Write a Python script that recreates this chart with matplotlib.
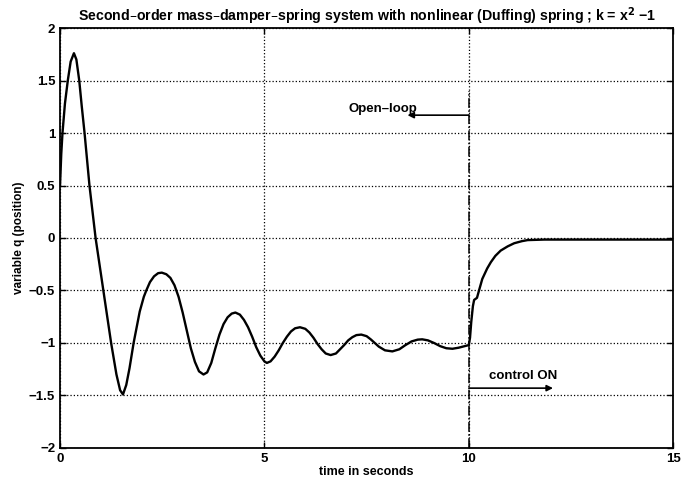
import matplotlib
matplotlib.use("Agg")
import matplotlib.pyplot as plt

# values (time in s, position q)
t = [0.0, 0.03, 0.06, 0.12, 0.19, 0.26, 0.34, 0.40, 0.47, 0.53, 0.60, 0.72, 0.87,
     1.06, 1.25, 1.38, 1.47, 1.54, 1.62, 1.70, 1.80, 1.95, 2.05, 2.11, 2.20, 2.30, 2.40,
     2.49, 2.60, 2.70, 2.80, 2.90, 3.00, 3.10, 3.20, 3.30, 3.40, 3.51, 3.60, 3.70,
     3.80, 3.90, 4.00, 4.10, 4.20, 4.29, 4.40, 4.50, 4.60, 4.70, 4.80, 4.90, 5.00,
     5.06, 5.15, 5.25, 5.35, 5.45, 5.55, 5.65, 5.75, 5.87, 6.00, 6.10, 6.20, 6.30,
     6.40, 6.50, 6.62, 6.75, 6.85, 6.95, 7.05, 7.15, 7.25, 7.37, 7.50, 7.60, 7.70,
     7.80, 7.95, 8.13, 8.30, 8.45, 8.60, 8.75, 8.86, 9.00, 9.15, 9.30, 9.45, 9.60,
     9.75, 9.90, 10.00, 10.03, 10.06, 10.10, 10.13, 10.20, 10.25,
     10.33, 10.45, 10.54, 10.65, 10.78, 10.95, 11.11, 11.30, 11.44, 11.85, 13.00, 15.00]
q = [0.50, 0.80, 1.00, 1.28, 1.50, 1.68, 1.76, 1.70, 1.50, 1.26, 1.00, 0.50, 0.00,
     -0.50, -1.00, -1.30, -1.45, -1.49, -1.40, -1.24, -1.00, -0.70, -0.56, -0.50, -0.42, -0.365, -0.335,
     -0.33, -0.345, -0.38, -0.45, -0.56, -0.71, -0.88, -1.05, -1.18, -1.27, -1.30, -1.28, -1.19,
     -1.05, -0.92, -0.82, -0.755, -0.72, -0.71, -0.73, -0.78, -0.85, -0.94, -1.04, -1.12, -1.175,
     -1.19, -1.175, -1.13, -1.07, -1.00, -0.94, -0.89, -0.86, -0.85, -0.865, -0.90, -0.95, -1.01,
     -1.06, -1.10, -1.115, -1.10, -1.06, -1.02, -0.975, -0.945, -0.925, -0.92, -0.935, -0.965, -1.00,
     -1.035, -1.07, -1.08, -1.06, -1.02, -0.985, -0.968, -0.965, -0.975, -1.00, -1.03, -1.05, -1.055,
     -1.045, -1.03, -1.02, -0.95, -0.80, -0.65, -0.59, -0.57, -0.50,
     -0.39, -0.29, -0.23, -0.17, -0.12, -0.08, -0.05, -0.03, -0.02, -0.015, -0.015, -0.015]

t_switch = 10
xticks = [0, 5, 10, 15]
yticks = [-2, -1.5, -1, -0.5, 0, 0.5, 1, 1.5, 2]

plt.rcParams["font.family"] = ["Liberation Sans", "DejaVu Sans"]
plt.rcParams["font.weight"] = "bold"

fig = plt.figure(figsize=(6.94, 4.83), dpi=100)
ax = fig.add_axes([0.0865, 0.0725, 0.8835, 0.8695])

ax.plot(t, q, color="black", linewidth=1.7)

# switching instant
ax.plot([t_switch, t_switch], [-2, 1.4], color="black", linestyle="-.", linewidth=1.1)

# annotations
ax.annotate("", xy=(8.5, 1.17), xytext=(t_switch, 1.17),
            arrowprops=dict(arrowstyle="-|>", color="black", lw=1.2, mutation_scale=9,
                            shrinkA=0, shrinkB=0))
ax.text(7.05, 1.2, "Open\u2013loop", fontsize=9.5, fontweight="bold", ha="left", va="baseline")
ax.annotate("", xy=(12.06, -1.43), xytext=(t_switch, -1.43),
            arrowprops=dict(arrowstyle="-|>", color="black", lw=1.2, mutation_scale=9,
                            shrinkA=0, shrinkB=0))
ax.text(10.5, -1.34, "control ON", fontsize=9.5, fontweight="bold", ha="left", va="baseline")

ax.set_xlim(0, 15)
ax.set_ylim(-2, 2)
ax.set_xticks(xticks)
ax.set_yticks(yticks)
ax.set_xticklabels([str(v) for v in xticks])
ax.set_yticklabels([("%g" % v).replace("-", "\u2212") for v in yticks])
ax.tick_params(direction="in", length=4, width=1, labelsize=9.5, top=True, right=True)
for lbl in ax.get_xticklabels() + ax.get_yticklabels():
    lbl.set_fontweight("bold")
for s in ax.spines.values():
    s.set_linewidth(1.3)

ax.grid(True, color="black", linestyle=":", linewidth=0.9)

ax.set_title("Second\u2013order mass\u2013damper\u2013spring system with nonlinear (Duffing) spring ; k = x$^2$ \u22121",
             fontsize=10.2, fontweight="bold", pad=5)
ax.set_xlabel("time in seconds", fontsize=9, fontweight="bold", labelpad=1)
ax.set_ylabel("variable q (position)", fontsize=8.5, fontweight="bold", labelpad=3)

fig.savefig("out.png", dpi=100)
